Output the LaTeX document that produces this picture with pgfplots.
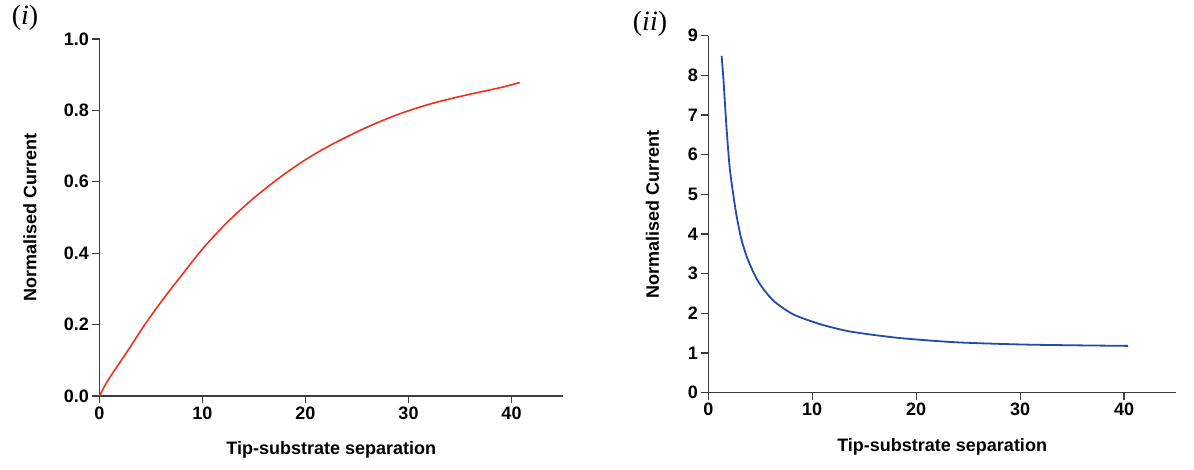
\documentclass[border=0pt]{standalone}
\usepackage{pgfplots}
\pgfplotsset{compat=1.18}
\usepackage{pgfplotstable}
\usepackage{fontspec}
\setmainfont{Liberation Sans}
\newfontfamily\serifrm{Liberation Serif}
\definecolor{cred}{RGB}{238,48,30}
\definecolor{cblue}{RGB}{35,75,170}
\definecolor{caxis}{RGB}{60,60,60}

\pgfplotstableread{
x y
0 0
0.5 0.028
1.0 0.052
2.0 0.095
3.0 0.138
4.4 0.200
6.35 0.278
8.3 0.350
10.0 0.412
12.0 0.475
13.0 0.503
15.0 0.555
17.5 0.612
20.0 0.662
22.65 0.706
25.9 0.752
29.1 0.790
32.35 0.820
35.6 0.843
38.8 0.863
40.8 0.878
}\leftdata

\pgfplotstableread{
x y
1.28 8.49
1.44 7.96
1.60 7.30
1.76 6.65
1.92 6.10
2.08 5.62
2.40 5.00
2.72 4.46
3.20 3.85
3.83 3.34
4.64 2.88
5.43 2.57
6.39 2.29
7.99 2.00
9.26 1.86
10.86 1.72
12.45 1.61
13.70 1.54
15.80 1.46
18.36 1.38
21.55 1.31
24.75 1.26
31.10 1.21
40.40 1.18
}\rightdata

\pgfplotsset{myaxis/.style={
  scale only axis,
  axis lines=left,
  axis line style={-, line width=1.1pt, caxis},
  x axis line style={shorten <=-7pt},
  tick style={line width=1.1pt, caxis},
  tick align=outside,
  major tick length=7pt,
  xmin=0, xmax=45,
  xtick={0,10,20,30,40},
  /pgf/number format/assume math mode=true,
  tick label style={font=\bfseries\fontsize{18}{18}\selectfont},
  label style={font=\bfseries\fontsize{18}{18}\selectfont},
  xlabel={Tip-substrate separation},
  ylabel={Normalised Current},
  xlabel style={at={(axis description cs:0.5,-0.151)}, anchor=center},
  clip=false,
}}

\begin{document}
\begin{tikzpicture}
\useasboundingbox (0,0) rectangle (1194pt,469pt);

\begin{axis}[myaxis,
  at={(99.5pt,73pt)}, anchor=south west,
  width=463.5pt, height=357pt,
  ymin=0, ymax=1,
  ytick={0,0.2,0.4,0.6,0.8,1.0},
  yticklabel style={/pgf/number format/.cd, fixed, fixed zerofill, precision=1},
  ylabel style={at={(axis description cs:-0.150,0.5)}, anchor=center},
]
\addplot[cred, line width=1.6pt, smooth, tension=0.5] table[x=x,y=y] {\leftdata};
\end{axis}

\begin{axis}[myaxis,
  at={(708.3pt,76.3pt)}, anchor=south west,
  width=467.7pt, height=357pt,
  ymin=0, ymax=9,
  ytick={0,1,2,3,4,5,6,7,8,9},
  ylabel style={at={(axis description cs:-0.1197,0.5)}, anchor=center},
]
\addplot[cblue, line width=1.8pt, smooth, tension=0.5] table[x=x,y=y] {\rightdata};
\end{axis}

\node at (25pt,451pt) {\serifrm\fontsize{28}{28}\selectfont (\textit{i})};
\node at (650pt,445pt) {\serifrm\fontsize{28}{28}\selectfont (\textit{ii})};
\end{tikzpicture}
\end{document}
